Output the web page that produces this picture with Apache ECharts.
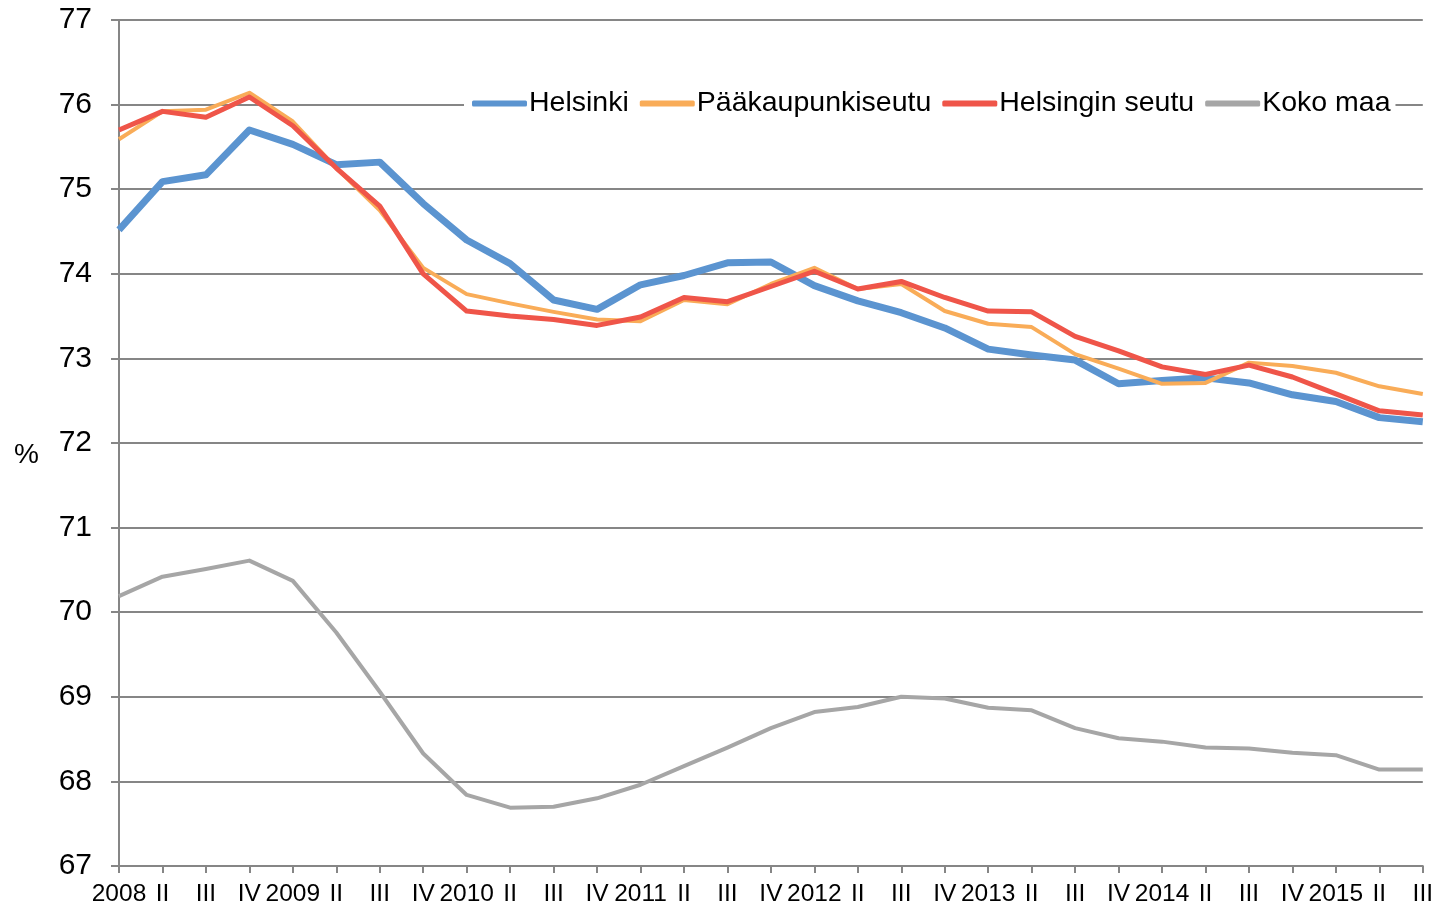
<!DOCTYPE html>
<html>
<head>
<meta charset="utf-8">
<style>
    html,body{margin:0;padding:0;background:#fff}
    #chart-1{width:1436px;height:909px}
</style>
<script src="https://cdn.jsdelivr.net/npm/echarts@6/dist/echarts.min.js"></script>
</head>
<body>
<div id="chart-1"></div>
<script>
var quarters = ['2008','II','III','IV','2009','II','III','IV','2010','II','III','IV','2011','II','III','IV',
    '2012','II','III','IV','2013','II','III','IV','2014','II','III','IV','2015','II','III']
var helsinki = [74.52,75.09,75.17,75.70,75.53,75.29,75.32,74.83,74.40,74.12,73.69,73.58,73.87,73.98,74.13,74.14,
    73.86,73.68,73.54,73.36,73.11,73.04,72.98,72.70,72.74,72.77,72.71,72.57,72.49,72.30,72.25]
var paakaupunkiseutu = [75.59,75.92,75.94,76.14,75.80,75.25,74.75,74.07,73.76,73.65,73.55,73.46,73.44,73.69,73.64,73.88,
    74.07,73.82,73.88,73.56,73.41,73.37,73.05,72.88,72.70,72.71,72.95,72.91,72.83,72.67,72.58]
var helsinginSeutu = [75.70,75.92,75.85,76.09,75.75,75.25,74.80,74.00,73.56,73.50,73.46,73.39,73.49,73.72,73.67,73.85,
    74.03,73.82,73.91,73.72,73.56,73.55,73.26,73.09,72.90,72.81,72.92,72.78,72.58,72.38,72.33]
var kokoMaa = [70.19,70.42,70.51,70.61,70.37,69.76,69.06,68.33,67.84,67.69,67.70,67.80,67.96,68.18,68.40,68.63,
    68.82,68.88,69.00,68.98,68.87,68.84,68.63,68.51,68.47,68.40,68.39,68.34,68.31,68.14,68.14]
var yMin = 67, yMax = 77, yStep = 1

var myChart1 = echarts.init(document.getElementById('chart-1'))
var axisColor = '#868686'
var font = 'Liberation Sans, Arial, sans-serif'

var option1 = {
    backgroundColor: '#fff',
    animation: false,
    grid: {
        left: 119,
        right: 12,
        top: 20,
        bottom: 43
    },
    legend: {
        left: 464,
        top: 85,
        padding: [4, 5, 4, 8],
        backgroundColor: '#fff',
        icon: 'roundRect',
        itemWidth: 55,
        itemHeight: 6,
        itemGap: 11,
        textStyle: {
            fontFamily: font,
            fontSize: 28.5,
            color: '#000',
            padding: [0, 0, 0, -3]
        },
        data: ['Helsinki', 'Pääkaupunkiseutu', 'Helsingin seutu', 'Koko maa']
    },
    xAxis: {
        type: 'category',
        data: quarters,
        boundaryGap: false,
        axisLine: {lineStyle: {color: axisColor, width: 2}},
        axisTick: {
            show: true,
            alignWithLabel: true,
            length: 7,
            lineStyle: {color: axisColor, width: 2}
        },
        axisLabel: {
            interval: 0,
            margin: 16,
            color: '#000',
            fontFamily: font,
            fontSize: 24.5
        },
        splitLine: {show: false}
    },
    yAxis: {
        type: 'value',
        min: yMin,
        max: yMax,
        interval: yStep,
        axisLine: {show: true, lineStyle: {color: axisColor, width: 2}},
        axisTick: {
            show: true,
            length: 8,
            lineStyle: {color: axisColor, width: 2}
        },
        axisLabel: {
            margin: 27,
            color: '#000',
            fontFamily: font,
            fontSize: 30
        },
        splitLine: {lineStyle: {color: axisColor, width: 2}}
    },
    graphic: [
        {
            type: 'text',
            left: 14,
            top: 441,
            style: {
                text: '%',
                font: '28px ' + font,
                fill: '#000'
            }
        }
    ],
    series: [
        {
            name: 'Helsinki',
            type: 'line',
            data: helsinki,
            symbol: 'none',
            color: '#5B94D0',
            lineStyle: {width: 7, color: '#5B94D0', join: 'round'}
        },
        {
            name: 'Pääkaupunkiseutu',
            type: 'line',
            data: paakaupunkiseutu,
            symbol: 'none',
            color: '#F9AC58',
            lineStyle: {width: 4, color: '#F9AC58', join: 'round'}
        },
        {
            name: 'Helsingin seutu',
            type: 'line',
            data: helsinginSeutu,
            symbol: 'none',
            color: '#EF5549',
            lineStyle: {width: 5, color: '#EF5549', join: 'round'}
        },
        {
            name: 'Koko maa',
            type: 'line',
            data: kokoMaa,
            symbol: 'none',
            color: '#A6A6A6',
            lineStyle: {width: 4, color: '#A6A6A6', join: 'round'}
        }
    ]
}
myChart1.setOption(option1)
</script>
</body>
</html>
